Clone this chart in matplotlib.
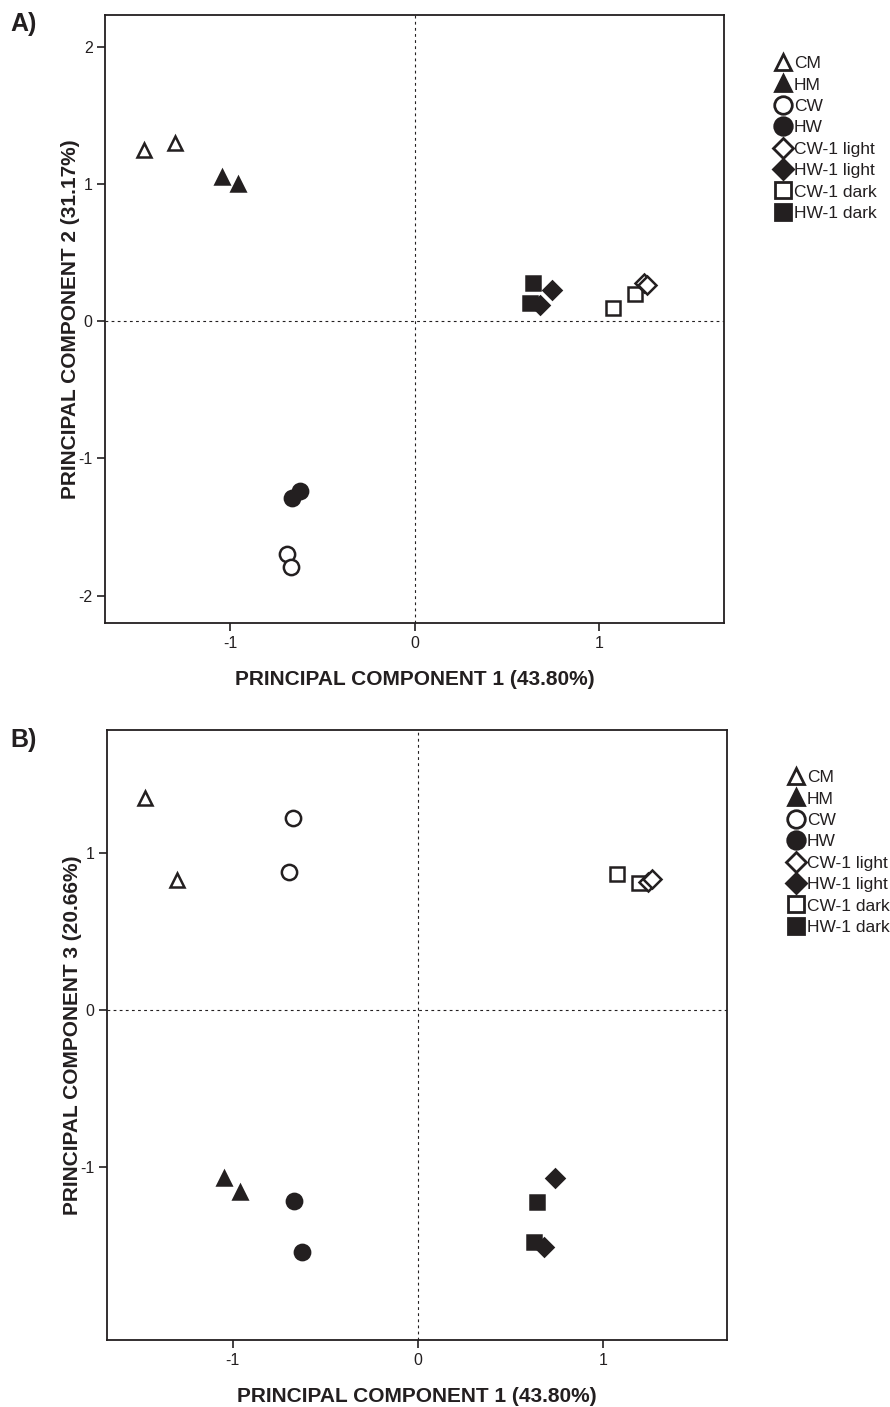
import matplotlib
matplotlib.use("Agg")
import matplotlib.pyplot as plt
from matplotlib.lines import Line2D

plt.rcParams['font.family'] = ['Liberation Sans', 'DejaVu Sans']

groups = ["CM", "HM", "CW", "HW", "CW-1 light", "HW-1 light", "CW-1 dark", "HW-1 dark"]
markers = ["^", "^", "o", "o", "D", "D", "s", "s"]
filled = [False, True, False, True, False, True, False, True]
msizes = [9.5, 9.5, 11, 11, 9, 9, 9.5, 9.5]

# Panel A: PC1 vs PC2
pc1_A = {
    "CM": [-1.47, -1.30],
    "HM": [-1.048, -0.96],
    "CW": [-0.695, -0.672],
    "HW": [-0.668, -0.623],
    "CW-1 light": [1.24, 1.26],
    "HW-1 light": [0.74, 0.678],
    "CW-1 dark": [1.075, 1.19],
    "HW-1 dark": [0.64, 0.623],
}
pc2_A = {
    "CM": [1.25, 1.30],
    "HM": [1.05, 1.00],
    "CW": [-1.70, -1.79],
    "HW": [-1.287, -1.24],
    "CW-1 light": [0.28, 0.265],
    "HW-1 light": [0.23, 0.117],
    "CW-1 dark": [0.092, 0.20],
    "HW-1 dark": [0.275, 0.13],
}
# Panel B: PC1 vs PC3
pc1_B = {
    "CM": [-1.47, -1.30],
    "HM": [-1.048, -0.96],
    "CW": [-0.672, -0.695],
    "HW": [-0.668, -0.623],
    "CW-1 light": [1.24, 1.26],
    "HW-1 light": [0.74, 0.678],
    "CW-1 dark": [1.075, 1.19],
    "HW-1 dark": [0.64, 0.623],
}
pc3_B = {
    "CM": [1.348, 0.824],
    "HM": [-1.072, -1.16],
    "CW": [1.22, 0.875],
    "HW": [-1.215, -1.54],
    "CW-1 light": [0.81, 0.83],
    "HW-1 light": [-1.07, -1.51],
    "CW-1 dark": [0.866, 0.807],
    "HW-1 dark": [-1.22, -1.476],
}

xticks = [-1, 0, 1]
yticks_A = [-2, -1, 0, 1, 2]
yticks_B = [-1, 0, 1]
xlabel = "PRINCIPAL COMPONENT 1 (43.80%)"
ylabel_A = "PRINCIPAL COMPONENT 2 (31.17%)"
ylabel_B = "PRINCIPAL COMPONENT 3 (20.66%)"

fig = plt.figure(figsize=(8.9, 14.07), dpi=100)
axA = fig.add_axes([0.118, 0.5572, 0.6955, 0.4321])
axB = fig.add_axes([0.1202, 0.0476, 0.6966, 0.4336])

dark = "#231f20"
draw_order = ["CW-1 dark", "CW-1 light", "HW-1 dark", "HW-1 light", "CM", "HM", "CW", "HW"]


def draw(ax, xs, ys, xlim, ylim, yticks, ylabel, leg_anchor):
    ax.axhline(0, color=dark, lw=0.8, ls=(0, (2.5, 3)), zorder=1)
    ax.axvline(0, color=dark, lw=0.8, ls=(0, (2.5, 3)), zorder=1)
    for g in draw_order:
        i = groups.index(g)
        ax.plot(xs[g], ys[g], ls="none", marker=markers[i], ms=msizes[i],
                mfc=dark if filled[i] else "white", mec=dark, mew=1.8, zorder=3)
    ax.set_xlim(*xlim)
    ax.set_ylim(*ylim)
    ax.set_xticks(xticks)
    ax.set_yticks(yticks)
    ax.set_xticklabels([f"{t}" for t in xticks])
    ax.set_yticklabels([f"{t}" for t in yticks])
    ax.tick_params(direction="out", length=6, width=1.2, labelsize=11.5, colors=dark, pad=3)
    for s in ax.spines.values():
        s.set_linewidth(1.3)
        s.set_color(dark)
    ax.set_xlabel(xlabel, fontsize=15, fontweight="bold", labelpad=14, color=dark)
    ax.set_ylabel(ylabel, fontsize=15, fontweight="bold", labelpad=-1, color=dark)
    handles = []
    for i, g in enumerate(groups):
        handles.append(Line2D([], [], ls="none", marker=markers[i], ms=msizes[i] * 1.15,
                              mfc=dark if filled[i] else "white", mec=dark, mew=2.0, label=g))
    fig.legend(handles=handles, loc="upper left", bbox_to_anchor=leg_anchor, frameon=False,
               fontsize=12.5, handletextpad=0.15, labelspacing=0.36, handlelength=1.0,
               borderaxespad=0, borderpad=0, labelcolor=dark)


draw(axA, pc1_A, pc2_A, (-1.68, 1.675), (-2.20, 2.23), yticks_A, ylabel_A,
     (774 / 890, 1 - 56 / 1407))
draw(axB, pc1_B, pc3_B, (-1.677, 1.666), (-2.10, 1.78), yticks_B, ylabel_B,
     (787 / 890, 1 - 770 / 1407))

fig.text(10 / 890, 1 - 24 / 1407, "A)", fontsize=18, fontweight="bold", color=dark, va="center")
fig.text(10 / 890, 1 - 740 / 1407, "B)", fontsize=18, fontweight="bold", color=dark, va="center")

fig.savefig("out.png", dpi=100)
